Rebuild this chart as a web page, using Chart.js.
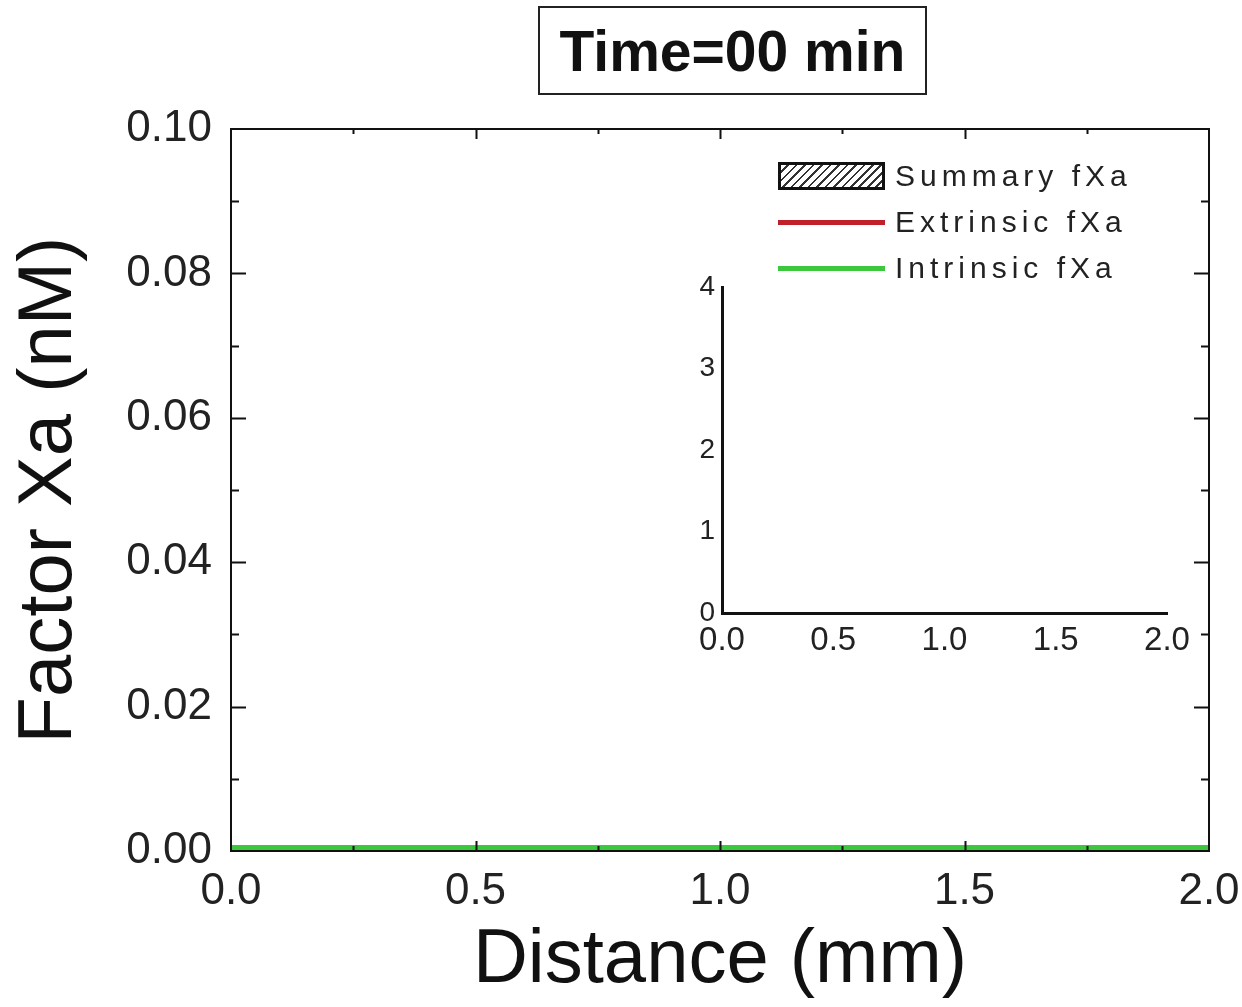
<!DOCTYPE html>
<html>
<head>
<meta charset="utf-8">
<script src="https://cdn.jsdelivr.net/npm/chart.js@4.4.1/dist/chart.umd.min.js"></script>
<style>
  body { margin: 0; background: #fff; }
  #wrap { position: relative; width: 1242px; height: 1007px; font-family: "Liberation Sans", Arial, sans-serif; }
  #main { position: absolute; left: 0; top: 0; }
  #inset { position: absolute; left: 680px; top: 260px; }
  #title {
    position: absolute; left: 538px; top: 6px; width: 389px; height: 89px;
    border: 2px solid #222; box-sizing: border-box;
    font-weight: bold; font-size: 57px; line-height: 86px; text-align: center; color: #111;
  }
  #legend { position: absolute; left: 778px; top: 153px; }
  .row { display: flex; align-items: center; height: 46px; }
  .sw { width: 107px; height: 28px; box-sizing: border-box; display: flex; align-items: center; }
  .sw.hatch { border: 3px solid #111;
    background: repeating-linear-gradient(135deg, #fff 0 4px, #333 4px 6px); }
  .sw .ln { width: 100%; height: 5px; }
  .lab { margin-left: 10px; font-size: 30px; letter-spacing: 5px; color: #222; }
</style>
</head>
<body>
<div id="wrap">
  <canvas id="main" width="1242" height="1007"></canvas>
  <canvas id="inset" width="520" height="420"></canvas>
  <div id="title">Time=00 min</div>
  <div id="legend"></div>
</div>
<script>
// dados (Time = 00 min, tudo zero)
const distance = [0, 0.5, 1.0, 1.5, 2.0];
const summaryFXa = [0, 0, 0, 0, 0];
const extrinsicFXa = [0, 0, 0, 0, 0];
const intrinsicFXa = [0, 0, 0, 0, 0];

const insetDistance = [0, 0.5, 1.0, 1.5, 2.0];
const insetSummary = [0, 0, 0, 0, 0];

const seriesNames = ['Summary fXa', 'Extrinsic fXa', 'Intrinsic fXa'];
const xTickStep = 0.5;
const yTickStep = 0.02;
const insetYStep = 1;

function pts(xs, ys) {
  return xs.map((x, i) => ({ x: x, y: ys[i] }));
}

// padrão hachurado para a área de resumo
function hatch() {
  const c = document.createElement('canvas');
  c.width = 8; c.height = 8;
  const g = c.getContext('2d');
  g.fillStyle = '#fff';
  g.fillRect(0, 0, 8, 8);
  g.strokeStyle = '#333';
  g.lineWidth = 1.5;
  g.beginPath();
  g.moveTo(0, 8); g.lineTo(8, 0);
  g.moveTo(-2, 2); g.lineTo(2, -2);
  g.moveTo(6, 10); g.lineTo(10, 6);
  g.stroke();
  return g.createPattern(c, 'repeat');
}

// moldura e marcas para dentro, nos quatro lados
const innerTicks = {
  id: 'innerTicks',
  afterDraw(chart, args, opts) {
    if (!opts.frame) return;
    const { ctx, chartArea: a, scales: { x, y } } = chart;
    ctx.save();
    ctx.strokeStyle = '#111';
    ctx.lineWidth = 2;
    ctx.strokeRect(a.left, a.top, a.right - a.left, a.bottom - a.top);
    ctx.beginPath();
    let n = Math.round((x.max - x.min) / opts.xMinor);
    for (let i = 1; i < n; i++) {
      const v = x.min + i * opts.xMinor;
      const px = Math.round(x.getPixelForValue(v)) + 0.5;
      const len = i % 2 === 0 ? 10 : 5;
      ctx.moveTo(px, a.bottom); ctx.lineTo(px, a.bottom - len);
      ctx.moveTo(px, a.top); ctx.lineTo(px, a.top + len);
    }
    n = Math.round((y.max - y.min) / opts.yMinor);
    for (let i = 1; i < n; i++) {
      const v = y.min + i * opts.yMinor;
      const py = Math.round(y.getPixelForValue(v)) + 0.5;
      const len = i % 2 === 0 ? 15 : 8;
      ctx.moveTo(a.left, py); ctx.lineTo(a.left + len, py);
      ctx.moveTo(a.right, py); ctx.lineTo(a.right - len, py);
    }
    ctx.stroke();
    ctx.restore();
  }
};

const tickFont = { family: '"Liberation Sans", Arial, sans-serif', size: 44 };
const titleFont = { family: '"Liberation Sans", Arial, sans-serif', size: 76 };

var mainChart = new Chart(document.getElementById('main'), {
  type: 'line',
  data: {
    datasets: [{
      label: seriesNames[0],
      data: pts(distance, summaryFXa),
      borderColor: '#111',
      borderWidth: 1,
      backgroundColor: hatch(),
      fill: 'origin',
      pointRadius: 0,
      order: 2,
      clip: 0
    }, {
      label: seriesNames[1],
      data: pts(distance, extrinsicFXa),
      borderColor: '#c0202a',
      borderWidth: 12,
      pointRadius: 0,
      order: 1,
      clip: 0
    }, {
      label: seriesNames[2],
      data: pts(distance, intrinsicFXa),
      borderColor: '#3cc83c',
      borderWidth: 12,
      pointRadius: 0,
      order: 0,
      clip: 0
    }]
  },
  options: {
    responsive: false,
    animation: false,
    layout: { padding: { top: 129, right: 33, left: 0, bottom: 0 } },
    plugins: {
      legend: { display: false },
      tooltip: { enabled: false },
      innerTicks: { frame: true, xMinor: 0.25, yMinor: 0.01 }
    },
    scales: {
      x: {
        type: 'linear',
        min: 0, max: 2,
        grid: { display: false, drawTicks: false },
        border: { display: false },
        ticks: { stepSize: xTickStep, padding: 14, color: '#222', font: tickFont,
                 callback: v => v.toFixed(1) },
        title: { display: true, text: 'Distance (mm)', color: '#111', font: titleFont,
                 padding: { top: 0, bottom: 0 } },
        afterFit: s => { s.height = 156; s.paddingRight = 0; s.paddingLeft = 0; }
      },
      y: {
        min: 0, max: 0.1,
        grid: { display: false, drawTicks: false },
        border: { display: false },
        ticks: { stepSize: yTickStep, padding: 19, color: '#222', font: tickFont,
                 callback: v => v.toFixed(2) },
        title: { display: true, text: 'Factor Xa (nM)', color: '#111', font: titleFont,
                 padding: { top: 4, bottom: 0 } },
        afterFit: s => { s.width = 231; }
      }
    }
  },
  plugins: [innerTicks]
});

var insetChart = new Chart(document.getElementById('inset'), {
  type: 'line',
  data: {
    datasets: [{
      label: seriesNames[0],
      data: pts(insetDistance, insetSummary),
      borderWidth: 0,
      backgroundColor: hatch(),
      fill: 'origin',
      pointRadius: 0
    }]
  },
  options: {
    responsive: false,
    animation: false,
    layout: { padding: { top: 27, right: 33, left: 0, bottom: 0 } },
    plugins: { legend: { display: false }, tooltip: { enabled: false } },
    scales: {
      x: {
        type: 'linear',
        min: 0, max: 2,
        grid: { display: false, drawTicks: false },
        border: { display: true, color: '#111', width: 3 },
        ticks: { stepSize: xTickStep, padding: 8, color: '#222',
                 font: { family: tickFont.family, size: 33 },
                 callback: v => v.toFixed(1) },
        afterFit: s => { s.height = 67; }
      },
      y: {
        min: 0, max: 4,
        grid: { display: false, drawTicks: false },
        border: { display: true, color: '#111', width: 3 },
        ticks: { stepSize: insetYStep, padding: 7, color: '#222',
                 font: { family: tickFont.family, size: 28 } },
        afterFit: s => { s.width = 42; }
      }
    }
  }
});

// legenda em HTML a partir dos datasets do gráfico principal
const legend = document.getElementById('legend');
mainChart.data.datasets.forEach(ds => {
  const row = document.createElement('div');
  row.className = 'row';
  const sw = document.createElement('div');
  sw.className = 'sw';
  if (ds.fill) {
    sw.classList.add('hatch');
  } else {
    const ln = document.createElement('div');
    ln.className = 'ln';
    ln.style.background = ds.borderColor;
    sw.appendChild(ln);
  }
  const lab = document.createElement('span');
  lab.className = 'lab';
  lab.textContent = ds.label;
  row.appendChild(sw);
  row.appendChild(lab);
  legend.appendChild(row);
});
</script>
</body>
</html>
